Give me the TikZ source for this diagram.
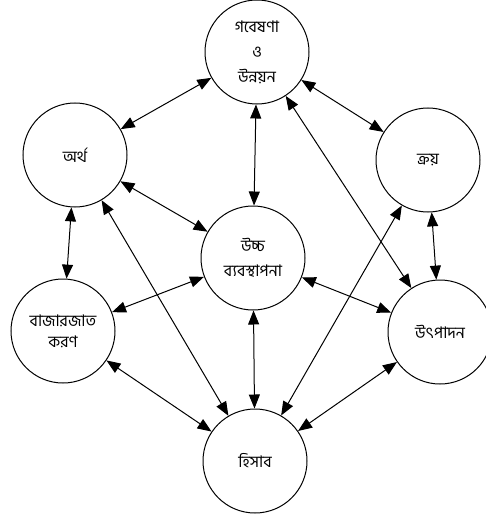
\documentclass[tikz,border=0pt]{standalone}
\usepackage{fontspec}
\newfontfamily\bnfont[Script=Bengali]{Hind Siliguri}
\usepackage{tikz}
\usetikzlibrary{arrows.meta}

\begin{document}
\begin{tikzpicture}[x=1pt,y=-1pt,
  dept/.style={draw,circle,minimum size=104pt,inner sep=0pt,line width=1pt,
    align=center,font=\bnfont\fontsize{16}{25}\selectfont},
  link/.style={{Triangle[length=14pt,width=11pt]}-{Triangle[length=14pt,width=11pt]},line width=1pt}]
\useasboundingbox (0,0) rectangle (486,516);
      \node[dept] (gobe) at (257,52) {গবেষণা\\ও\\উন্নয়ন};
      \node[dept] (ortho) at (75,155) {অর্থ};
      \node[dept] (kroy) at (428,160) {ক্রয়};
      \node[dept] (ucco) at (253,258) {উচ্চ\\ব্যবস্থাপনা};
      \node[dept,font=\bnfont\fontsize{16}{21}\selectfont] (bajar) at (63,331) {বাজারজাত\\করণ};
      \node[dept] (utpa) at (440,332) {উৎপাদন};
      \node[dept] (hisab) at (255,461) {হিসাব};
      \foreach \a/\b in {gobe/ortho,gobe/kroy,gobe/ucco,gobe/utpa,ortho/ucco,ortho/bajar,
          ortho/hisab,kroy/utpa,kroy/hisab,ucco/bajar,ucco/utpa,ucco/hisab,bajar/hisab,utpa/hisab}
        \draw[link] (\a) -- (\b);
\end{tikzpicture}
\end{document}
